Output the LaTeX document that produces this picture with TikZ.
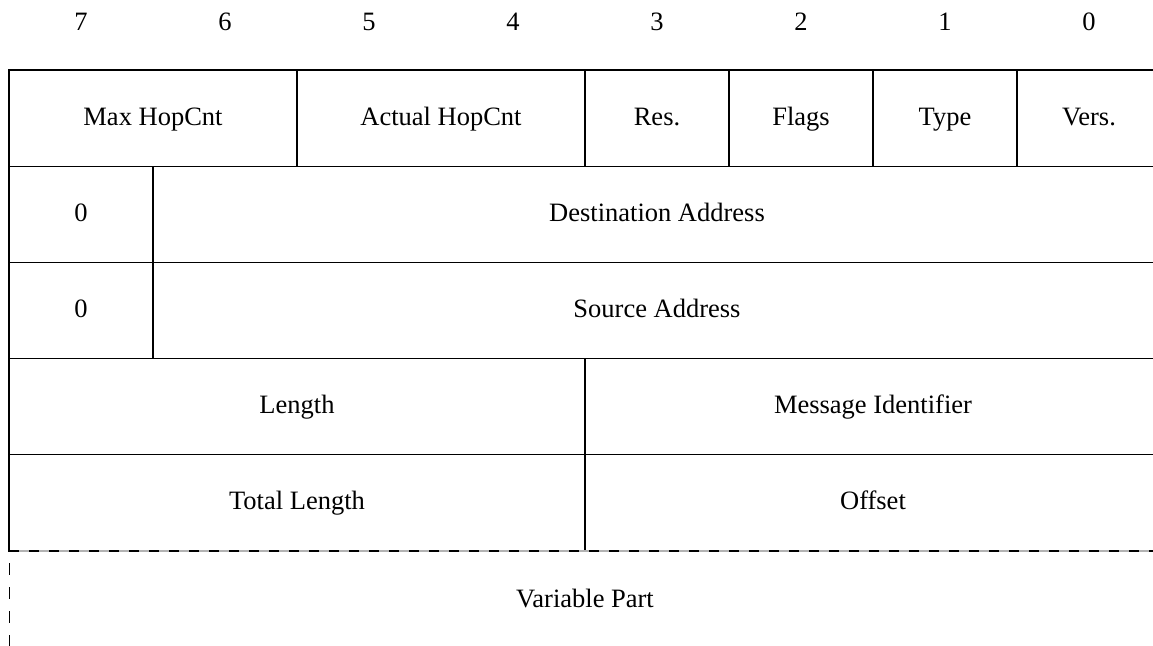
\documentclass[tikz,border=0pt]{standalone}
\usepackage{fontspec}
\setmainfont{Liberation Serif}
\usepackage{tikz}
\usetikzlibrary{positioning}
\newlength{\bitw}\setlength{\bitw}{72pt}
\newlength{\rowh}\setlength{\rowh}{48.1pt}

\begin{document}
\begin{tikzpicture}[
  x=0.5pt, y=-0.5pt,
  every node/.style={font=\fontsize{13.25}{16}\selectfont},
  cell/.style={draw, rectangle, inner sep=0pt, outer sep=0pt,
    text height=0.75em, text depth=0.05em,
    minimum height=\rowh, line width=0.6pt},
  bits/.style={cell, minimum width=#1*\bitw}
]
\useasboundingbox (0,0) rectangle (1153,645);

% bit numbers
\foreach \b in {0,...,7}
  \node (bit\b) at ({81+144*(7-\b)},22) {\b};

% first row
\node[bits=2, anchor=north west] (maxhop) at (9,70) {Max HopCnt};
\node[bits=2, right=0pt of maxhop] (acthop) {Actual HopCnt};
\node[bits=1, right=0pt of acthop] (res) {Res.};
\node[bits=1, right=0pt of res] (flags) {Flags};
\node[bits=1, right=0pt of flags] (type) {Type};
\node[bits=1, right=0pt of type] (vers) {Vers.};

% addresses
\node[bits=1, anchor=north west] (zerodst) at (maxhop.south west) {0};
\node[bits=7, right=0pt of zerodst] (dstaddr) {Destination Address};
\node[bits=1, below=0pt of zerodst] (zerosrc) {0};
\node[bits=7, right=0pt of zerosrc] (srcaddr) {Source Address};

% length fields
\node[bits=4, anchor=north west] (length) at (zerosrc.south west) {Length};
\node[bits=4, right=0pt of length] (msgid) {Message Identifier};
\node[bits=4, below=0pt of length] (totlen) {Total Length};
\node[bits=4, right=0pt of totlen] (offset) {Offset};

% variable part
\node (varpart) at (585,598) {Variable Part};
\coordinate (varend) at (9,650);
\draw[gray!60, line width=0.8pt] (totlen.south west) -- (offset.south east);
\draw[dash pattern=on 5pt off 5pt, line width=0.8pt] (totlen.south west) -- (offset.south east);
\draw[white, line width=1pt] (totlen.south west) ++(0,1) -- (varend);
\draw[dash pattern=on 6pt off 6pt, line width=0.5pt, dash phase=-6pt] (totlen.south west) -- (varend);
\end{tikzpicture}
\end{document}
